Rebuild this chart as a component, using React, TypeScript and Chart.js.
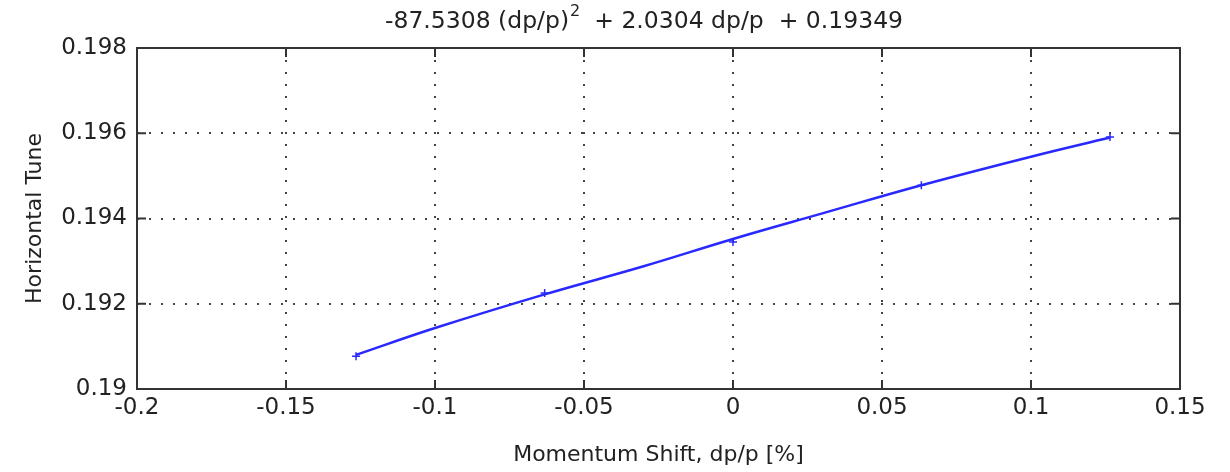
import React, { useEffect, useRef } from "react";
import { Chart, registerables } from "chart.js";

Chart.register(...registerables);

// Fitted curve
const fitX = [-0.1265, -0.1, -0.0632, -0.03, 0, 0.03, 0.0632, 0.1, 0.1265];
const fitY = [0.1908, 0.19143, 0.19222, 0.19288, 0.19352, 0.19412, 0.19478, 0.19545, 0.1959];

// Measured points
const measX = [-0.1265, -0.0632, 0, 0.0632, 0.1265];
const measY = [0.19077, 0.19225, 0.19345, 0.19478, 0.19591];

const xTickLabels = ["-0.2", "-0.15", "-0.1", "-0.05", "0", "0.05", "0.1", "0.15"];
const yTickLabels = ["0.19", "0.192", "0.194", "0.196", "0.198"];

const titleMain = "-87.5308 (dp/p)";
const titleSup = "2";
const titleRest = "  + 2.0304 dp/p  + 0.19349";
const xTitle = "Momentum Shift, dp/p [%]";
const yTitle = "Horizontal Tune";

const FONT = "'DejaVu Sans', sans-serif";

const boxPlugin = {
  id: "matlabBox",
  afterDraw(chart: any) {
    const { ctx, chartArea, scales } = chart;
    const { left, right, top, bottom } = chartArea;
    ctx.save();
    ctx.strokeStyle = "#333";
    ctx.lineWidth = 2;
    ctx.setLineDash([]);
    ctx.strokeRect(left, top, right - left, bottom - top);
    const tl = 9;
    ctx.beginPath();
    scales.x.ticks.forEach((t: any) => {
      const px = scales.x.getPixelForValue(t.value);
      ctx.moveTo(px, bottom);
      ctx.lineTo(px, bottom - tl);
      ctx.moveTo(px, top);
      ctx.lineTo(px, top + tl);
    });
    scales.y.ticks.forEach((t: any) => {
      const py = scales.y.getPixelForValue(t.value);
      ctx.moveTo(left, py);
      ctx.lineTo(left + tl, py);
      ctx.moveTo(right, py);
      ctx.lineTo(right - tl, py);
    });
    ctx.stroke();

    // title with superscript
    ctx.fillStyle = "#222";
    ctx.textBaseline = "alphabetic";
    ctx.textAlign = "left";
    const mainFont = `23.5px ${FONT}`;
    const supFont = `16px ${FONT}`;
    ctx.font = mainFont;
    const w1 = ctx.measureText(titleMain).width;
    const w3 = ctx.measureText(titleRest).width;
    ctx.font = supFont;
    const w2 = ctx.measureText(titleSup).width;
    const total = w1 + w2 + w3;
    const cx = 644;
    let x = cx - total / 2;
    const base = 28;
    ctx.font = mainFont;
    ctx.fillText(titleMain, x, base);
    x += w1;
    ctx.font = supFont;
    ctx.fillText(titleSup, x + 1, base - 12);
    x += w2;
    ctx.font = mainFont;
    ctx.fillText(titleRest, x, base);
    ctx.restore();
  },
};

export default function App() {
  const ref = useRef<HTMLCanvasElement | null>(null);
  useEffect(() => {
    if (!ref.current) return;
    const chart = new Chart(ref.current, {
      type: "scatter",
      data: {
        datasets: [
          {
            label: "fit",
            data: fitX.map((x, i) => ({ x, y: fitY[i] })),
            showLine: true,
            borderColor: "rgb(40,40,255)",
            borderWidth: 2.5,
            pointRadius: 0,
            tension: 0.4,
          },
          {
            label: "measured",
            data: measX.map((x, i) => ({ x, y: measY[i] })),
            showLine: false,
            pointStyle: "cross",
            pointRadius: 4,
            borderColor: "rgb(40,40,255)",
            borderWidth: 1.5,
          },
        ],
      },
      options: {
        animation: false,
        responsive: false,
        maintainAspectRatio: false,
        layout: { padding: { top: 48, right: 50, left: 0, bottom: 0 } },
        plugins: {
          legend: { display: false },
          tooltip: { enabled: false },
          title: { display: false },
        },
        scales: {
          x: {
            type: "linear",
            min: -0.2,
            max: 0.15,
            afterFit: (s: any) => {
              s.height = 83;
            },
            ticks: {
              stepSize: 0.05,
              color: "#222",
              font: { family: FONT, size: 23 },
              padding: 5,
              maxRotation: 0,
              autoSkip: false,
              callback: (_v: any, i: number) => xTickLabels[i],
            },
            grid: { color: "#444", lineWidth: 2, drawTicks: false },
            border: { display: false, dash: [2, 10] },
            title: {
              display: true,
              text: xTitle,
              color: "#222",
              font: { family: FONT, size: 22 },
              padding: { top: 4, bottom: 4 },
            },
          },
          y: {
            type: "linear",
            min: 0.19,
            max: 0.198,
            afterFit: (s: any) => {
              s.width = 137;
            },
            ticks: {
              stepSize: 0.002,
              color: "#222",
              font: { family: FONT, size: 23 },
              padding: 10,
              autoSkip: false,
              callback: (_v: any, i: number) => yTickLabels[i],
            },
            grid: { color: "#444", lineWidth: 2, drawTicks: false },
            border: { display: false, dash: [2, 10] },
            title: {
              display: true,
              text: yTitle,
              color: "#222",
              font: { family: FONT, size: 22 },
              padding: { top: 22, bottom: 4 },
            },
          },
        },
      },
      plugins: [boxPlugin],
    });
    return () => chart.destroy();
  }, []);
  return (
    <div style={{ position: "fixed", left: 0, top: 0, width: 1230, height: 472, background: "#fff" }}>
      <canvas ref={ref} width={1230} height={472} style={{ display: "block" }} />
    </div>
  );
}
